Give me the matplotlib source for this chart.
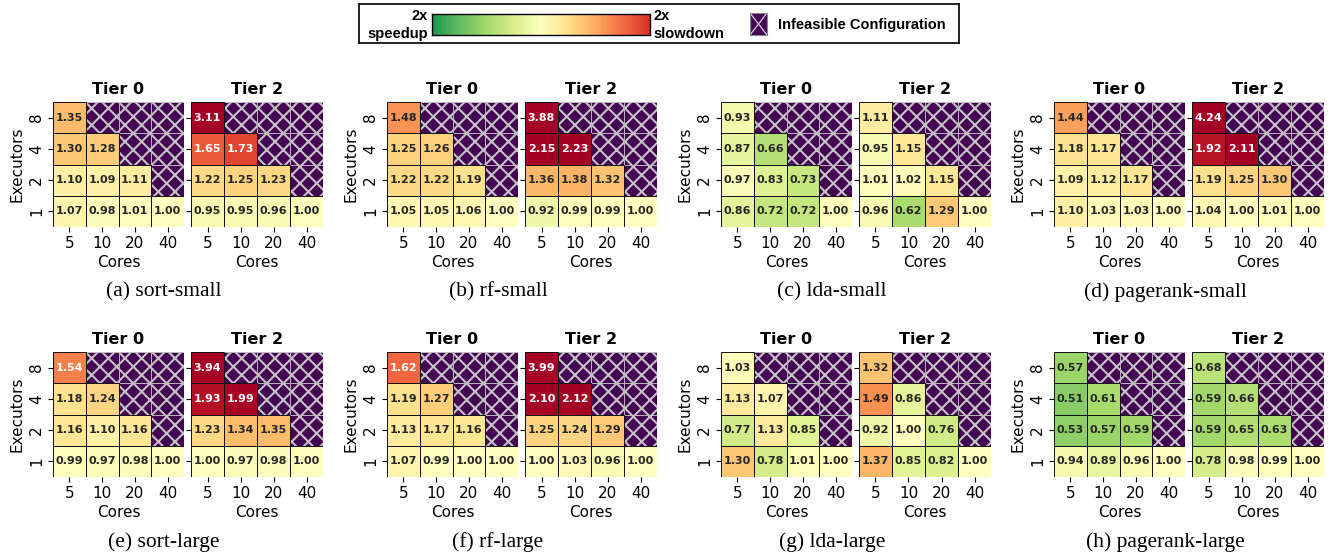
import numpy as np
import matplotlib
matplotlib.use("Agg")
import matplotlib.pyplot as plt
from matplotlib.colors import Normalize
from matplotlib.patches import Rectangle

plt.rcParams["font.family"] = "DejaVu Sans"
plt.rcParams["hatch.linewidth"] = 1.5

# slowdown relative to baseline; rows = executors 8,4,2,1 (top to bottom), cols = cores 5,10,20,40
# nan = infeasible configuration
N = np.nan
cores = [5, 10, 20, 40]
executors = [8, 4, 2, 1]

sort_small_t0 = [[1.35, N, N, N], [1.30, 1.28, N, N], [1.10, 1.09, 1.11, N], [1.07, 0.98, 1.01, 1.00]]
sort_small_t2 = [[3.11, N, N, N], [1.65, 1.73, N, N], [1.22, 1.25, 1.23, N], [0.95, 0.95, 0.96, 1.00]]
rf_small_t0 = [[1.48, N, N, N], [1.25, 1.26, N, N], [1.22, 1.22, 1.19, N], [1.05, 1.05, 1.06, 1.00]]
rf_small_t2 = [[3.88, N, N, N], [2.15, 2.23, N, N], [1.36, 1.38, 1.32, N], [0.92, 0.99, 0.99, 1.00]]
lda_small_t0 = [[0.93, N, N, N], [0.87, 0.66, N, N], [0.97, 0.83, 0.73, N], [0.86, 0.72, 0.72, 1.00]]
lda_small_t2 = [[1.11, N, N, N], [0.95, 1.15, N, N], [1.01, 1.02, 1.15, N], [0.96, 0.62, 1.29, 1.00]]
pagerank_small_t0 = [[1.44, N, N, N], [1.18, 1.17, N, N], [1.09, 1.12, 1.17, N], [1.10, 1.03, 1.03, 1.00]]
pagerank_small_t2 = [[4.24, N, N, N], [1.92, 2.11, N, N], [1.19, 1.25, 1.30, N], [1.04, 1.00, 1.01, 1.00]]
sort_large_t0 = [[1.54, N, N, N], [1.18, 1.24, N, N], [1.16, 1.10, 1.16, N], [0.99, 0.97, 0.98, 1.00]]
sort_large_t2 = [[3.94, N, N, N], [1.93, 1.99, N, N], [1.23, 1.34, 1.35, N], [1.00, 0.97, 0.98, 1.00]]
rf_large_t0 = [[1.62, N, N, N], [1.19, 1.27, N, N], [1.13, 1.17, 1.16, N], [1.07, 0.99, 1.00, 1.00]]
rf_large_t2 = [[3.99, N, N, N], [2.10, 2.12, N, N], [1.25, 1.24, 1.29, N], [1.00, 1.03, 0.96, 1.00]]
lda_large_t0 = [[1.03, N, N, N], [1.13, 1.07, N, N], [0.77, 1.13, 0.85, N], [1.30, 0.78, 1.01, 1.00]]
lda_large_t2 = [[1.32, N, N, N], [1.49, 0.86, N, N], [0.92, 1.00, 0.76, N], [1.37, 0.85, 0.82, 1.00]]
pagerank_large_t0 = [[0.57, N, N, N], [0.51, 0.61, N, N], [0.53, 0.57, 0.59, N], [0.94, 0.89, 0.96, 1.00]]
pagerank_large_t2 = [[0.68, N, N, N], [0.59, 0.66, N, N], [0.59, 0.65, 0.63, N], [0.78, 0.98, 0.99, 1.00]]

panels = [
    ("(a) sort-small", sort_small_t0, sort_small_t2),
    ("(b) rf-small", rf_small_t0, rf_small_t2),
    ("(c) lda-small", lda_small_t0, lda_small_t2),
    ("(d) pagerank-small", pagerank_small_t0, pagerank_small_t2),
    ("(e) sort-large", sort_large_t0, sort_large_t2),
    ("(f) rf-large", rf_large_t0, rf_large_t2),
    ("(g) lda-large", lda_large_t0, lda_large_t2),
    ("(h) pagerank-large", pagerank_large_t0, pagerank_large_t2),
]

W, H = 1335, 558
cmap = plt.get_cmap("RdYlGn_r")
norm = Normalize(vmin=0, vmax=2)
INFEASIBLE = "#440154"


def px(left, top, w, h):
    return [left / W, 1 - (top + h) / H, w / W, h / H]


def text_color(rgb):
    # same luminance rule seaborn uses for annotations
    c = np.array(rgb[:3])
    c = np.where(c <= 0.03928, c / 12.92, ((c + 0.055) / 1.055) ** 2.4)
    lum = 0.2126 * c[0] + 0.7152 * c[1] + 0.0722 * c[2]
    return ".15" if lum > 0.408 else "w"


def draw_heatmap(ax, data, title, first):
    M = np.array(data, dtype=float)
    ax.pcolormesh(np.ma.masked_invalid(M), cmap=cmap, norm=norm, edgecolors="none", zorder=1)
    for i in range(M.shape[0]):
        for j in range(M.shape[1]):
            v = M[i, j]
            if np.isnan(v):
                ax.add_patch(Rectangle((j, i), 1, 1, facecolor=INFEASIBLE, zorder=1.5,
                                       edgecolor="#c4c4c4", hatch="xx", linewidth=0.6))
    for i in range(M.shape[0]):
        for j in range(M.shape[1]):
            v = M[i, j]
            if not np.isnan(v):
                ax.add_patch(Rectangle((j, i), 1, 1, fill=False, edgecolor="#111111",
                                       linewidth=0.7, zorder=2))
                ax.text(j + 0.5, i + 0.5, f"{v:.2f}", ha="center", va="center", zorder=3,
                        fontsize=8, fontweight="bold", color=text_color(cmap(norm(v))))
    ax.set_xlim(0, 4)
    ax.set_ylim(4, 0)
    for s in ax.spines.values():
        s.set_visible(False)
    ax.set_xticks(np.arange(4) + 0.5, [str(c) for c in cores])
    ax.set_yticks(np.arange(4) + 0.5, [str(e) for e in executors], rotation=90, va="center")
    ax.tick_params(labelsize=11, length=3.5, width=0.8, pad=3)
    ax.set_xlabel("Cores", fontsize=11, labelpad=3)
    ax.set_title(title, fontsize=11.5, fontweight="bold", pad=6)
    if first:
        ax.set_ylabel("Executors", fontsize=11, labelpad=3)
    else:
        ax.set_yticklabels([])


fig = plt.figure(figsize=(W / 100, H / 100), dpi=100)

col_left = [53, 387, 721, 1054]
row_top = [102, 352]
for k, (caption, t0, t2) in enumerate(panels):
    r, c = divmod(k, 4)
    left, top = col_left[c], row_top[r]
    ax0 = fig.add_axes(px(left, top, 131, 125))
    draw_heatmap(ax0, t0, "Tier 0", True)
    ax2 = fig.add_axes(px(left + 138, top, 132, 125))
    draw_heatmap(ax2, t2, "Tier 2", False)
    cx = (left + left + 270) / 2 - 24
    cy = top + 190
    fig.text(cx / W, 1 - cy / H, caption, family="Liberation Serif", fontsize=15.5,
             ha="center", va="center")

# legend box at the top
lg = fig.add_axes(px(359, 4, 600, 39))
lg.set_xticks([])
lg.set_yticks([])
for s in lg.spines.values():
    s.set_linewidth(1.2)

bar = fig.add_axes(px(432, 14, 218, 21))
grad = np.linspace(0.2, 1.8, 256)[None, :]
bar.imshow(grad, cmap=cmap, norm=norm, aspect="auto")
bar.set_xticks([])
bar.set_yticks([])
for s in bar.spines.values():
    s.set_linewidth(1.0)

lf = dict(family="Liberation Sans", fontweight="bold", fontsize=10.5)
fig.text(428 / W, 1 - 16 / H, "2x", ha="right", va="center", **lf)
fig.text(428 / W, 1 - 34 / H, "speedup", ha="right", va="center", **lf)
fig.text(653 / W, 1 - 16 / H, "2x", ha="left", va="center", **lf)
fig.text(653 / W, 1 - 34 / H, "slowdown", ha="left", va="center", **lf)

sq = fig.add_axes(px(750, 13, 17, 22))
sq.set_xlim(0, 1)
sq.set_ylim(0, 1)
sq.set_facecolor(INFEASIBLE)
sq.plot([0, 1], [0, 1], color="#d0d0d0", lw=0.9)
sq.plot([0, 1], [1, 0], color="#d0d0d0", lw=0.9)
sq.set_xticks([])
sq.set_yticks([])
for s in sq.spines.values():
    s.set_color("#888888")
fig.text(778 / W, 1 - 25 / H, "Infeasible Configuration", ha="left", va="center", **lf)

fig.savefig("out.png", dpi=100)
